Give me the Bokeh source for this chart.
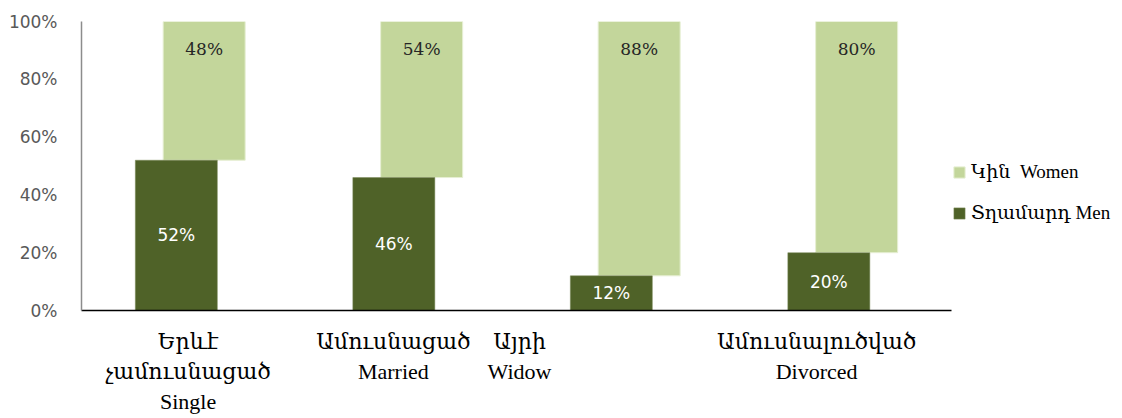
from bokeh.plotting import figure
from bokeh.models import (ColumnDataSource, Range1d, FixedTicker, NumeralTickFormatter,
                          LabelSet, Legend, LegendItem)
from bokeh.core.properties import value
from bokeh.embed import file_html
from bokeh.resources import INLINE

# ---- data ----
categories = ["Երևէ\nչամուսնացած\nSingle", "Ամուսնացած\nMarried", "Այրի\nWidow", "Ամուսնալուծված\nDivorced"]
men = [0.52, 0.46, 0.12, 0.20]
women = [0.48, 0.54, 0.88, 0.80]
men_text = ["52%", "46%", "12%", "20%"]
women_text = ["48%", "54%", "88%", "80%"]
y_ticks = [0, 0.2, 0.4, 0.6, 0.8, 1.0]
label_shift = [-0.01, -0.066, -0.486, -0.12]   # category-label offsets (as placed in original)
legend_labels = ["Կին  Women", "Տղամարդ Men"]

MEN_C = "#4F6228"
WOMEN_C = "#C3D69B"
SERIF = "'Liberation Serif', 'DejaVu Serif', serif"

idx = list(range(len(categories)))
men_x = [i - 0.064 for i in idx]
women_x = [i + 0.064 for i in idx]
src = ColumnDataSource(dict(
    men_x=men_x, women_x=women_x, men=men,
    women_top=[m + w for m, w in zip(men, women)],
    men_mid=[m / 2 for m in men],
    men_text=men_text, women_text=women_text,
))
label_pos = [round(i + s, 3) for i, s in zip(idx, label_shift)]

p = figure(frame_width=870, frame_height=289, output_backend="svg", toolbar_location=None,
           x_range=Range1d(-0.5, 3.5), y_range=Range1d(0, 1),
           min_border_left=81, min_border_right=171, min_border_top=21, min_border_bottom=108)
p.outline_line_color = None
p.grid.grid_line_color = None
p.background_fill_color = "white"
p.border_fill_color = "white"

rw = p.vbar(x="women_x", width=0.377, bottom="men", top="women_top", source=src,
            fill_color=WOMEN_C, line_color="#E6EFD3", line_width=1)
rm = p.vbar(x="men_x", width=0.377, bottom=0, top="men", source=src,
            fill_color=MEN_C, line_color="#7A8A5A", line_width=0.5)

# value labels
p.add_layout(LabelSet(x="men_x", y="men_mid", text="men_text", source=src,
                      text_align="center", text_baseline="middle",
                      text_color="white", text_font=value("DejaVu Sans"), text_font_size="17px"))
p.add_layout(LabelSet(x="women_x", y="women_top", text="women_text", source=src,
                      y_offset=-27, text_align="center", text_baseline="middle",
                      text_color="#262626", text_font=value("DejaVu Serif"), text_font_size="17px"))

# x axis: category labels as tick labels at their placed positions
p.xaxis.ticker = FixedTicker(ticks=label_pos)
p.xaxis.major_label_overrides = {pos: txt for pos, txt in zip(label_pos, categories)}
p.xaxis.major_label_text_font = SERIF
p.xaxis.major_label_text_font_size = "22px"
p.xaxis.major_label_text_color = "black"
p.xaxis.major_label_text_line_height = 1.2
p.xaxis.major_label_standoff = 12
p.xaxis.major_tick_line_color = None
p.xaxis.minor_tick_line_color = None
p.xaxis.axis_line_color = "black"
p.xaxis.axis_line_width = 1.5

p.yaxis.ticker = FixedTicker(ticks=y_ticks)
p.yaxis.formatter = NumeralTickFormatter(format="0%")
p.yaxis.major_tick_line_color = None
p.yaxis.minor_tick_line_color = None
p.yaxis.axis_line_color = "#8C8C8C"
p.yaxis.axis_line_width = 1.5
p.yaxis.major_label_text_font = "DejaVu Sans"
p.yaxis.major_label_text_font_size = "17px"
p.yaxis.major_label_text_color = "#595959"
p.yaxis.major_label_standoff = 18

legend = Legend(items=[LegendItem(label=legend_labels[0], renderers=[rw]),
                       LegendItem(label=legend_labels[1], renderers=[rm])],
                location=(1, 86), orientation="vertical",
                padding=0, margin=0, spacing=18, border_line_color=None,
                background_fill_alpha=0, glyph_width=14, glyph_height=14,
                label_height=20, label_standoff=5,
                label_text_font=SERIF, label_text_font_size="19px", label_text_color="black")
p.add_layout(legend, "right")

open("out.html", "w").write(file_html(p, INLINE))
